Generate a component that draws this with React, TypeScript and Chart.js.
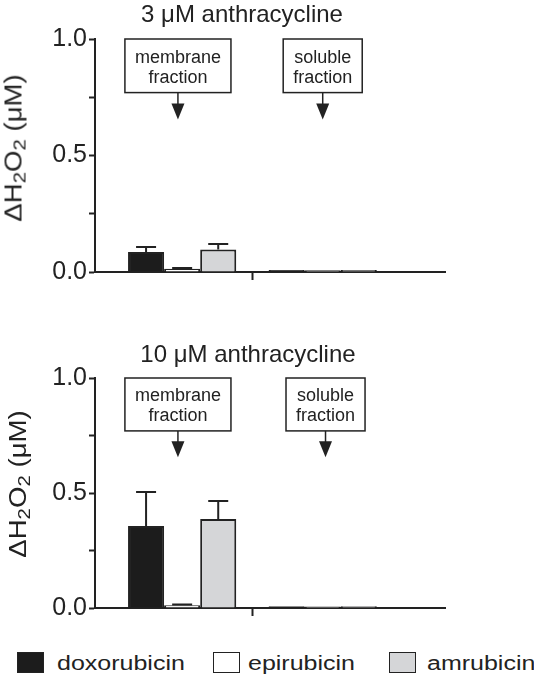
import { useEffect, useRef } from 'react'
import Chart from 'chart.js/auto'

const categories = ['membrane fraction', 'soluble fraction']
const drugs = ['doxorubicin', 'epirubicin', 'amrubicin']
const drugColors = ['#1c1c1c', '#ffffff', '#d5d6d8']
const yLabels = [0, 0.5, 1.0]

// 3 uM anthracycline
const dox3 = [0.086, 0.009]
const epi3 = [0.014, 0.007]
const amr3 = [0.097, 0.009]
const dox3Err = [0.021, 0]
const epi3Err = [0.003, 0]
const amr3Err = [0.023, 0]

// 10 uM anthracycline
const dox10 = [0.357, 0.008]
const epi10 = [0.012, 0.007]
const amr10 = [0.387, 0.008]
const dox10Err = [0.147, 0]
const epi10Err = [0.003, 0]
const amr10Err = [0.078, 0]

const FONT = "'Liberation Sans', Arial, Helvetica, sans-serif"
const INK = '#222'

const errorBars = {
  id: 'errorBars',
  afterDatasetsDraw(chart: any, _args: any, opts: any) {
    const { ctx } = chart
    const ys = chart.scales.y
    ctx.save()
    ctx.strokeStyle = INK
    ctx.lineWidth = 2
    chart.data.datasets.forEach((ds: any, di: number) => {
      const meta = chart.getDatasetMeta(di)
      const errs = opts.errors[di]
      meta.data.forEach((bar: any, i: number) => {
        const e = errs[i]
        if (!e) return
        const v = ds.data[i].y
        const y0 = ys.getPixelForValue(v)
        const y1 = ys.getPixelForValue(v + e)
        ctx.beginPath()
        ctx.moveTo(bar.x, y0)
        ctx.lineTo(bar.x, y1)
        ctx.moveTo(bar.x - 10, y1)
        ctx.lineTo(bar.x + 10, y1)
        ctx.stroke()
      })
    })
    ctx.restore()
  },
}

// labelled boxes with arrows pointing down at each fraction
const fractionBoxes = {
  id: 'fractionBoxes',
  afterDraw(chart: any, _args: any, opts: any) {
    const { ctx } = chart
    const xs = chart.scales.x
    const ys = chart.scales.y
    ctx.save()
    ctx.font = `18px ${FONT}`
    ctx.textAlign = 'center'
    ctx.textBaseline = 'alphabetic'
    opts.items.forEach((item: any) => {
      const cx = xs.getPixelForValue(item.x)
      const top = ys.getPixelForValue(opts.boxTop)
      const bottom = ys.getPixelForValue(opts.boxBottom)
      const tip = ys.getPixelForValue(opts.tip)
      const w = Math.max(...item.lines.map((l: string) => ctx.measureText(l).width)) + 20
      ctx.fillStyle = '#fff'
      ctx.fillRect(cx - w / 2, top, w, bottom - top)
      ctx.strokeStyle = INK
      ctx.lineWidth = 1.5
      ctx.strokeRect(cx - w / 2, top, w, bottom - top)
      ctx.fillStyle = INK
      const mid = (top + bottom) / 2
      ctx.fillText(item.lines[0], cx, mid - 3)
      ctx.fillText(item.lines[1], cx, mid + 17)
      // arrow
      ctx.beginPath()
      ctx.moveTo(cx, bottom)
      ctx.lineTo(cx, tip - 14)
      ctx.stroke()
      ctx.beginPath()
      ctx.moveTo(cx - 6.5, tip - 16)
      ctx.lineTo(cx + 6.5, tip - 16)
      ctx.lineTo(cx, tip)
      ctx.closePath()
      ctx.fill()
    })
    ctx.restore()
  },
}

type PanelProps = {
  top: number
  height: number
  padTop: number
  values: number[][]
  errors: number[][]
  title: string
  titleTop: number
  titleX: number
  yTitleX: number
  yTitleY: number
  boxX: number[]
}

function Panel(p: PanelProps) {
  const ref = useRef<HTMLCanvasElement>(null)

  useEffect(() => {
    if (!ref.current) return
    const existing = Chart.getChart(ref.current)
    if (existing) existing.destroy()

    const chart = new Chart(ref.current, {
      type: 'bar',
      data: {
        datasets: drugs.map((d, di) => ({
          label: d,
          data: p.values[di].map((v, i) => ({ x: i + 1, y: v })),
          backgroundColor: drugColors[di],
          borderColor: INK,
          borderWidth: 2,
          categoryPercentage: 0.77,
          barPercentage: 1,
        })),
      },
      plugins: [errorBars, fractionBoxes],
      options: {
        animation: false,
        responsive: true,
        maintainAspectRatio: false,
        layout: { padding: { top: p.padTop, right: 89, left: 0, bottom: 0 } },
        plugins: {
          legend: { display: false },
          tooltip: { enabled: false },
          errorBars: { errors: p.errors },
          fractionBoxes: {
            boxTop: 1.0,
            boxBottom: 0.77,
            tip: 0.655,
            items: categories.map((c, i) => ({ x: p.boxX[i], lines: c.split(' ') })),
          },
        } as any,
        scales: {
          x: {
            type: 'linear',
            min: 0.38,
            max: 2.87,
            offset: false,
            afterBuildTicks: (s: any) => { s.ticks = [{ value: 1.5 }] },
            ticks: { display: false },
            grid: { offset: false, drawOnChartArea: false, tickLength: 8, tickColor: INK, tickWidth: 2 },
            border: { color: INK, width: 2 },
            afterFit: (s: any) => { s.height = 28 },
          },
          y: {
            min: 0,
            max: 1,
            ticks: {
              stepSize: 0.25,
              callback: (v: any) => (yLabels.includes(v) ? Number(v).toFixed(1) : ''),
              font: { family: FONT, size: 25 },
              color: INK,
              padding: 2,
            },
            grid: { drawOnChartArea: false, tickLength: 6, tickColor: INK, tickWidth: 2 },
            border: { color: INK, width: 2 },
            afterFit: (s: any) => { s.width = 95 },
          },
        },
      } as any,
    })

    return () => { chart.destroy() }
  }, [])

  return (
    <>
      <div style={{ position: 'absolute', left: 0, top: p.top, width: 534, height: p.height }}>
        <canvas ref={ref} />
      </div>
      <div style={{ position: 'absolute', left: p.titleX, top: p.titleTop, transform: 'translateX(-50%)', fontSize: 24, lineHeight: '24px', whiteSpace: 'nowrap', color: INK }}>
        {p.title}
      </div>
      <div style={{ position: 'absolute', left: p.yTitleX, top: p.yTitleY, transform: 'translate(-50%, -50%) rotate(-90deg) scaleX(1.2)', fontSize: 23, lineHeight: '23px', whiteSpace: 'nowrap', color: INK }}>
        ΔH<sub style={{ fontSize: 17, verticalAlign: -4, lineHeight: 0 }}>2</sub>O<sub style={{ fontSize: 17, verticalAlign: -4, lineHeight: 0 }}>2</sub> (μM)
      </div>
    </>
  )
}

const legendBoxX = [17, 213, 389]
const legendTextX = [57, 248, 427]

export default function App() {
  return (
    <div style={{ position: 'absolute', left: 0, top: 0, width: 534, height: 676, background: '#fff', fontFamily: FONT, overflow: 'hidden' }}>
      <Panel
        top={0} height={300} padTop={39}
        values={[dox3, epi3, amr3]} errors={[dox3Err, epi3Err, amr3Err]}
        title="3 μM anthracycline" titleTop={2} titleX={242}
        yTitleX={14} yTitleY={148}
        boxX={[0.97, 2.0]}
      />
      <Panel
        top={340} height={296} padTop={38}
        values={[dox10, epi10, amr10]} errors={[dox10Err, epi10Err, amr10Err]}
        title="10 μM anthracycline" titleTop={342} titleX={248}
        yTitleX={18} yTitleY={484}
        boxX={[0.97, 2.02]}
      />
      {drugs.map((d, i) => (
        <div key={d}>
          <div style={{ position: 'absolute', left: legendBoxX[i], top: 652, width: 27, height: 21, boxSizing: 'border-box', border: `1.5px solid ${INK}`, background: drugColors[i] }} />
          <div style={{ position: 'absolute', left: legendTextX[i], top: 653, fontSize: 20, lineHeight: '20px', transform: 'scaleX(1.25)', transformOrigin: 'left', whiteSpace: 'nowrap', color: INK }}>
            {d}
          </div>
        </div>
      ))}
    </div>
  )
}
